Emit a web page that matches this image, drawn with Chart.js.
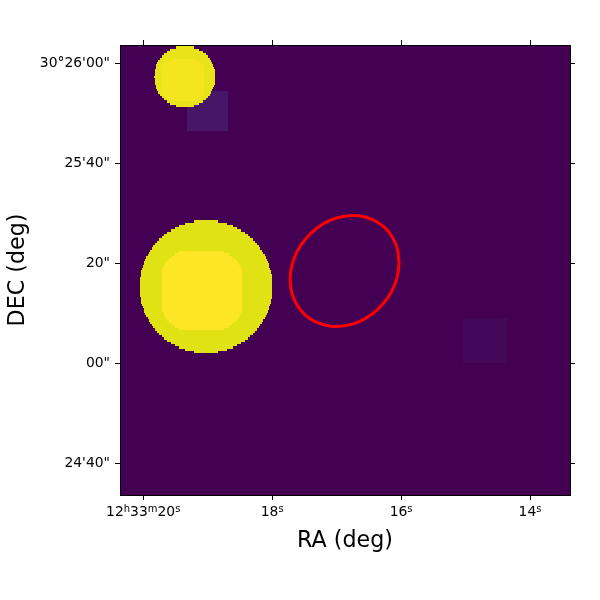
<!DOCTYPE html>
<html>
<head>
<meta charset="utf-8">
<style>
  html, body { margin: 0; padding: 0; background: #fff; }
  canvas { display: block; }
</style>
<script src="https://cdn.jsdelivr.net/npm/chart.js@4"></script>
</head>
<body>
<canvas id="skyChart" width="600" height="600"></canvas>
<script>
// axis ticks: RA in seconds past 12h33m, DEC in arcsec past 30d24'
var raTicks = [20, 18, 16, 14];
var raLabels = ['12h33m20s', '18s', '16s', '14s'];
var decTicks = [120, 100, 80, 60, 40];
var decLabels = ['30\u00B026\'00"', '25\'40"', '20"', '00"', '24\'40"'];

// sky range covered by the image and size of one image cell
var raRange = [13.38, 20.36];
var decRange = [33.7, 123.7];
var raCell = 0.0349;
var decCell = 0.45;

// half widths (in cells) of each blob, indexed by row distance from its centre
var bigDiskHalf = [29,29,28.9,28.85,28.7,28.6,28.4,28.2,27.9,27.6,27.25,26.9,26.45,26,25.5,24.9,24.3,23.6,22.9,22.1,21.2,20.2,19.15,18,16.65,15.15,13.4,11.4,8.8,4.9];
var bigCoreHalf = [17.4,17.4,17.4,17.4,17.4,17.4,17.4,17.4,17.4,17.4,17,16.5,16,15,14,13,11.5,9.5];
var smallDiskHalf = [13,12.9,12.8,12.7,12.4,12.1,11.7,11.2,10.5,9.7,8.8,7.5,6,3.5];
var smallCoreHalf = [9,9,9,9,9,9,9,8,7,5];

// centre cell [col, row] of each blob
var bigDiskCentre = [37.75, 106.9];
var bigCoreCentre = [35.94, 108.6];
var smallDiskCentre = [28.3, 13.6];
var smallCoreCentre = [27.5, 15];

// faint square patches: [firstCol, lastCol, firstRow, lastRow]
var patchA = [29.8, 46.8, 20.4, 37.4];
var patchB = [152.6, 171.2, 121.2, 140.2];

// red region outline
var ellipseRa = [16.031,16.060,16.144,16.279,16.454,16.657,16.876,17.095,17.298,17.473,17.608,17.692,17.721,17.692,17.608,17.473,17.298,17.095,16.876,16.657,16.454,16.279,16.144,16.060,16.031];
var ellipseDec = [80.2,82.98,85.46,87.46,88.84,89.54,89.46,88.66,87.16,85.06,82.52,79.7,76.8,74.02,71.54,69.54,68.16,67.46,67.54,68.34,69.84,71.94,74.48,77.3,80.2];

function blobRows(halfWidths, centre) {
  var rows = [];
  halfWidths.forEach(function(h, d) {
    rows.push([centre[0] - h, centre[0] + h, centre[1] - d]);
    if (d > 0) rows.push([centre[0] - h, centre[0] + h, centre[1] + d]);
  });
  return rows;
}

function patchRows(p) {
  var rows = [];
  for (var r = p[2]; r <= p[3]; r++) rows.push([p[0], p[1], r]);
  return rows;
}

var imageLayers = [
  { color: '#471668', rows: patchRows(patchA) },
  { color: '#44085a', rows: patchRows(patchB) },
  { color: '#e1e214', rows: blobRows(bigDiskHalf, bigDiskCentre) },
  { color: '#fde724', rows: blobRows(bigCoreHalf, bigCoreCentre) },
  { color: '#e8e419', rows: blobRows(smallDiskHalf, smallDiskCentre) },
  { color: '#f4e61e', rows: blobRows(smallCoreHalf, smallCoreCentre) }
];

var imagePlugin = {
  id: 'skyImage',
  beforeDatasetsDraw: function(chart) {
    var c = chart.ctx, a = chart.chartArea, xs = chart.scales.x, ys = chart.scales.y;
    c.save();
    c.fillStyle = '#440154';
    c.fillRect(a.left, a.top, a.width, a.height);
    imageLayers.forEach(function(layer) {
      c.fillStyle = layer.color;
      layer.rows.forEach(function(r) {
        var x0 = Math.round(xs.getPixelForValue(raRange[1] - r[0] * raCell));
        var x1 = Math.round(xs.getPixelForValue(raRange[1] - (r[1] + 1) * raCell));
        var y0 = Math.round(ys.getPixelForValue(decRange[1] - r[2] * decCell));
        var y1 = Math.round(ys.getPixelForValue(decRange[1] - (r[2] + 1) * decCell));
        c.fillRect(x0, y0, x1 - x0, y1 - y0);
      });
    });
    c.restore();
  },
  // RA labels have the h, m, s letters raised, which tick callbacks cannot do
  afterDraw: function(chart) {
    var c = chart.ctx, xs = chart.scales.x;
    var baseline = xs.bottom - 105 + 21;
    c.save();
    c.fillStyle = '#000';
    c.textBaseline = 'alphabetic';
    c.textAlign = 'left';
    raTicks.forEach(function(v, i) {
      var parts = raLabels[i].match(/\d+|[hms]/g);
      var width = 0;
      parts.forEach(function(p) {
        c.font = (/\d/.test(p) ? '13.9px' : '10px') + ' "DejaVu Sans"';
        width += c.measureText(p).width;
      });
      var x = xs.getPixelForValue(v) - width / 2;
      parts.forEach(function(p) {
        var digit = /\d/.test(p);
        c.font = (digit ? '13.9px' : '10px') + ' "DejaVu Sans"';
        c.fillText(p, x, digit ? baseline : baseline - 4.5);
        x += c.measureText(p).width;
      });
    });
    c.restore();
  }
};

Chart.defaults.font.family = '"DejaVu Sans"';
Chart.defaults.color = '#000';

function setTicks(values) {
  return function(axis) {
    axis.ticks = values.map(function(v) { return { value: v }; });
  };
}

function fixSize(prop, size) {
  return function(axis) { axis[prop] = size; };
}

function axisBase(values, range, reverse, pos, prop, size) {
  return {
    type: 'linear',
    position: pos,
    min: range[0],
    max: range[1],
    reverse: reverse,
    afterBuildTicks: setTicks(values),
    afterFit: fixSize(prop, size),
    grid: { drawOnChartArea: false, tickLength: 5, tickColor: '#000', tickWidth: 1 },
    border: { display: true, color: '#000', width: 1, z: 1 },
    ticks: { display: false }
  };
}

var xAxis = axisBase(raTicks, raRange, true, 'bottom', 'height', 105);
xAxis.title = { display: true, text: 'RA (deg)', color: '#000', font: { size: 22.2 }, padding: { top: 0, bottom: 45.5 } };

var yAxis = axisBase(decTicks, decRange, false, 'left', 'width', 120);
yAxis.ticks = {
  display: true, autoSkip: false, padding: 5, color: '#000',
  font: { size: 13.9 },
  callback: function(v) { return decLabels[decTicks.indexOf(v)]; }
};
yAxis.title = { display: true, text: 'DEC (deg)', color: '#000', font: { size: 22.2 }, padding: { top: 4.5, bottom: 0 } };

var ctx = document.getElementById('skyChart').getContext('2d');
var skyChart = new Chart(ctx, {
  type: 'scatter',
  data: {
    datasets: [{
      label: 'region',
      data: ellipseRa.map(function(ra, i) { return { x: ra, y: ellipseDec[i] }; }),
      showLine: true,
      fill: false,
      tension: 0.4,
      borderColor: '#ff0000',
      borderWidth: 3,
      pointRadius: 0
    }]
  },
  options: {
    responsive: false,
    devicePixelRatio: 1,
    animation: false,
    layout: { padding: 0 },
    plugins: { legend: { display: false }, tooltip: { enabled: false }, title: { display: false } },
    scales: {
      x: xAxis,
      y: yAxis,
      xTop: axisBase(raTicks, raRange, true, 'top', 'height', 45),
      yRight: axisBase(decTicks, decRange, false, 'right', 'width', 30)
    }
  },
  plugins: [imagePlugin]
});
</script>
</body>
</html>
